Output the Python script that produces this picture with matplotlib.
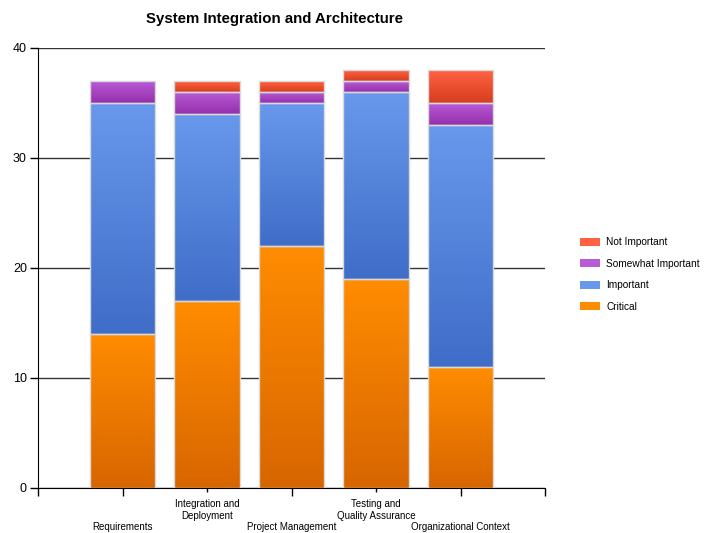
import numpy as np
import matplotlib
matplotlib.use("Agg")
import matplotlib.pyplot as plt
from matplotlib.colors import to_rgb
from matplotlib.patches import Patch

plt.rcParams["font.family"] = ["Liberation Sans", "DejaVu Sans"]

categories = ["Requirements", "Integration and\nDeployment", "Project Management",
              "Testing and\nQuality Assurance", "Organizational Context"]
critical = [14, 17, 22, 19, 11]
important = [21, 17, 13, 17, 22]
somewhat = [2, 2, 1, 1, 2]
not_important = [0, 1, 1, 1, 3]
y_ticks = [0, 10, 20, 30, 40]

series = [
    ("Critical", critical, "#FF8C00", "#D86600"),
    ("Important", important, "#6898EC", "#3F6DC8"),
    ("Somewhat Important", somewhat, "#B95AD6", "#9530AC"),
    ("Not Important", not_important, "#FF6242", "#D63E1E"),
]

fig = plt.figure(figsize=(7.04, 5.33), dpi=100)
ax = fig.add_axes([38/704, 1-488/533, (545-38)/704, (488-48)/533])

x = np.arange(1, len(categories)+1)
width = 0.78
bottom = np.zeros(len(categories))
handles = []
for name, vals, ctop, cbot in series:
    vals = np.array(vals, dtype=float)
    bars = ax.bar(x, vals, width, bottom=bottom, color=cbot, edgecolor="none", zorder=2)
    for b, v, b0 in zip(bars, vals, bottom):
        if v <= 0:
            continue
        grad = np.linspace(to_rgb(cbot), to_rgb(ctop), 64).reshape(64, 1, 3)
        im = ax.imshow(grad, extent=[b.get_x(), b.get_x()+b.get_width(), b0, b0+v],
                       origin="lower", aspect="auto", zorder=2.5, interpolation="bilinear")
        im.set_clip_path(b)
    ax.bar(x, np.where(vals > 0, vals, np.nan), width, bottom=bottom, fill=False,
           edgecolor="#D9D9D9", linewidth=1.0, zorder=3)
    bottom += vals
    handles.append(Patch(facecolor=ctop, edgecolor="none", label=name))

ax.set_xlim(0, 6)
ax.set_ylim(0, 40)
ax.set_yticks(y_ticks)
ax.set_yticklabels([str(t) for t in y_ticks], fontsize=9)
ax.set_xticks(range(0, 7))
labels = [""]
for i, c in enumerate(categories):
    labels.append(("\n\n" + c) if i % 2 == 0 else c)
labels.append("")
ax.set_xticklabels(labels, fontsize=7, linespacing=1.2)
ax.tick_params(axis="x", length=6, width=1, pad=2, colors="black")
ax.tick_params(axis="y", length=6, width=1, pad=2, colors="black")
xt = ax.xaxis.get_major_ticks()
for i in (2, 4):
    xt[i].tick1line.set_markersize(3)
ax.yaxis.grid(True, color="#333333", linewidth=1, zorder=0)
ax.set_axisbelow(True)
for s in ["top", "right"]:
    ax.spines[s].set_visible(False)
ax.spines["left"].set_color("black")
ax.spines["bottom"].set_color("black")
ax.set_facecolor("white")

fig.text(274/704, 1-18.5/533, "System Integration and Architecture", ha="center", va="center",
         fontsize=10.8, fontweight="bold")

leg = fig.legend(handles=handles[::-1], loc="center left", bbox_to_anchor=(571/704, 1-274.5/533),
                 frameon=False, fontsize=7.3, handlelength=2.0, handleheight=0.8,
                 labelspacing=1.12, handletextpad=0.6)

fig.savefig("out.png", dpi=100)
